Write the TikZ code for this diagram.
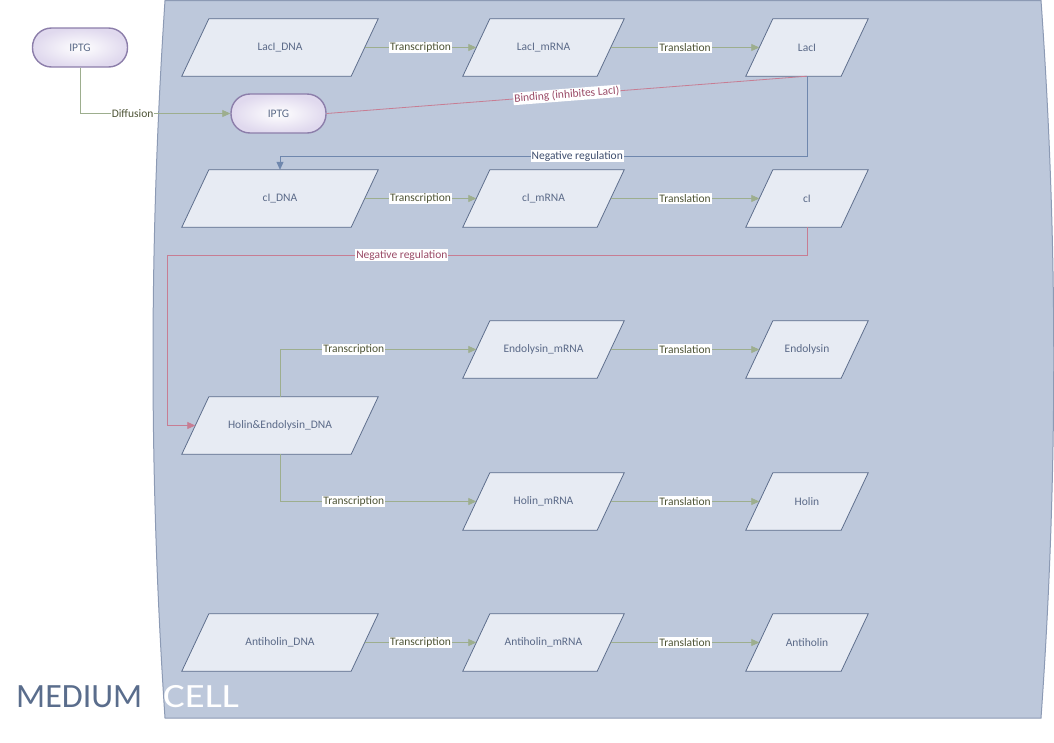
\documentclass[tikz,border=0pt]{standalone}
\usepackage{fontspec}
\setmainfont{Carlito}
\newfontfamily\cellfont[FakeStretch=1.2]{Carlito}
\usetikzlibrary{arrows.meta,calc}
\pgfdeclarelayer{back}\pgfdeclarelayer{mid}
\pgfsetlayers{back,mid,main}
\definecolor{cellfill}{HTML}{BDC8DB}
\definecolor{cellline}{HTML}{8C9AB4}
\definecolor{parafill}{HTML}{E7EBF3}
\definecolor{paraline}{HTML}{5E6E8C}
\definecolor{nodetext}{HTML}{5B6A88}
\definecolor{grn}{HTML}{9DAE8E}
\definecolor{grntext}{HTML}{4E5436}
\definecolor{pinkc}{HTML}{C77D93}
\definecolor{pinktext}{HTML}{9A4A66}
\definecolor{blu}{HTML}{6F87AD}
\definecolor{blutext}{HTML}{3E4E6E}
\definecolor{lav}{HTML}{E0D9EE}
\definecolor{lavline}{HTML}{8C7EAA}
\definecolor{mediumc}{HTML}{5A6D8C}
\tikzset{
  box/.style={rectangle, inner sep=0pt, minimum height=57pt, text=nodetext, font=\fontsize{11.5}{13}\selectfont},
  dnabox/.style={box, minimum width=196pt},
  rnabox/.style={box, minimum width=161pt},
  protbox/.style={box, minimum width=122pt},
  pill/.style={rectangle, rounded corners=19pt, minimum width=95pt, minimum height=39pt, inner sep=0pt, draw=lavline, line width=1.4pt, inner color=white, outer color=lav, text=nodetext, font=\fontsize{11.5}{13}\selectfont},
  tip/.style={-{Triangle[length=8pt,width=7pt]}},
  grnline/.style={draw=grn, line width=0.8pt},
  pinkline/.style={draw=pinkc, line width=0.8pt},
  bluline/.style={draw=blu, line width=0.8pt},
  lbl/.style={fill=white, inner sep=1pt, font=\fontsize{11.5}{13}\selectfont},
  glbl/.style={lbl, text=grntext},
  plbl/.style={lbl, text=pinktext},
  blbl/.style={lbl, text=blutext},
  parashape/.style={fill=parafill, draw=paraline, line width=0.8pt}
}
\newcommand{\paraof}[1]{\begin{pgfonlayer}{mid}\path[parashape] (#1.south west) -- ([xshift=-27pt]#1.south east) -- (#1.north east) -- ([xshift=27pt]#1.north west) -- cycle;\end{pgfonlayer}}
\begin{document}
\begin{tikzpicture}[x=1pt,y=-1pt]
\useasboundingbox (0,0) rectangle (1054,742);
% cell
\begin{pgfonlayer}{back}
\path[fill=cellfill, draw=cellline, line width=1pt] (165,0.5) -- (1041,0.5) .. controls (1058,240) and (1058,478) .. (1041,718) -- (165,718) .. controls (149,478) and (149,240) .. (165,0.5) -- cycle;
\end{pgfonlayer}
\node[text=mediumc, font=\fontsize{34}{40}\selectfont, anchor=base west, inner sep=0pt] (medium) at (16,707) {MEDIUM};
\node[text=white, font=\cellfont\fontsize{34}{40}\selectfont, anchor=base west, inner sep=0pt] (celltxt) at (163,707) {CELL};
% nodes
\node[pill] (iptgout) at (80,47.5) {IPTG};
\node[pill] (iptgin) at (278.5,113.5) {IPTG};
\node[dnabox] (ldna) at (280,47.5) {LacI\_DNA};
\node[rnabox] (lrna) at (543.5,47.5) {LacI\_mRNA};
\node[protbox] (laci) at (807,47.5) {LacI};
\node[dnabox] (cdna) at (280,198.5) {cI\_DNA};
\node[rnabox] (crna) at (543.5,198.5) {cI\_mRNA};
\node[protbox] (ci) at (807,198.5) {cI};
\node[rnabox] (erna) at (543.5,349.5) {Endolysin\_mRNA};
\node[protbox] (endo) at (807,349.5) {Endolysin};
\node[dnabox] (hed) at (280,425.5) {Holin\&Endolysin\_DNA};
\node[rnabox] (hrna) at (543.5,501.5) {Holin\_mRNA};
\node[protbox] (holin) at (807,501.5) {Holin};
\node[dnabox] (adna) at (280,642.5) {Antiholin\_DNA};
\node[rnabox] (arna) at (543.5,642.5) {Antiholin\_mRNA};
\node[protbox] (anti) at (807,642.5) {Antiholin};
\foreach \n in {ldna,lrna,laci,cdna,crna,ci,erna,endo,hed,hrna,holin,adna,arna,anti} {\paraof{\n}}
% diffusion
\draw[grnline, tip] (iptgout.south) |- node[glbl, pos=0.675] {Diffusion} (iptgin.west);
% transcription / translation rows
\draw[grnline, tip] ([xshift=-13.5pt]ldna.east) -- node[glbl] {Transcription} ([xshift=13.5pt]lrna.west);
\draw[grnline, tip] ([xshift=-13.5pt]lrna.east) -- node[glbl] {Translation} ([xshift=13.5pt]laci.west);
\draw[grnline, tip] ([xshift=-13.5pt]cdna.east) -- node[glbl] {Transcription} ([xshift=13.5pt]crna.west);
\draw[grnline, tip] ([xshift=-13.5pt]crna.east) -- node[glbl] {Translation} ([xshift=13.5pt]ci.west);
\draw[grnline, tip] ([xshift=-13.5pt]erna.east) -- node[glbl] {Translation} ([xshift=13.5pt]endo.west);
\draw[grnline, tip] ([xshift=-13.5pt]hrna.east) -- node[glbl] {Translation} ([xshift=13.5pt]holin.west);
\draw[grnline, tip] ([xshift=-13.5pt]adna.east) -- node[glbl] {Transcription} ([xshift=13.5pt]arna.west);
\draw[grnline, tip] ([xshift=-13.5pt]arna.east) -- node[glbl] {Translation} ([xshift=13.5pt]anti.west);
\draw[grnline, tip] (hed.north) |- node[glbl, pos=0.688] {Transcription} ([xshift=13.5pt]erna.west);
\draw[grnline, tip] (hed.south) |- node[glbl, pos=0.688] {Transcription} ([xshift=13.5pt]hrna.west);
% binding
\draw[pinkline] (iptgin.east) -- node[plbl, sloped] {Binding (inhibites LacI)} (laci.south);
% negative regulation LacI -> cI_DNA
\coordinate (n1) at (807,156);
\draw[bluline, tip] (laci.south) -- (n1) -| node[blbl, pos=0.218] {Negative regulation} (cdna.north);
% negative regulation cI -> Holin&Endolysin_DNA
\coordinate (n2) at (807,255);
\coordinate (n3) at (167,255);
\draw[pinkline, tip] (ci.south) -- (n2) -- node[plbl, pos=0.633] {Negative regulation} (n3) |- ([xshift=13.5pt]hed.west);
\end{tikzpicture}
\end{document}
